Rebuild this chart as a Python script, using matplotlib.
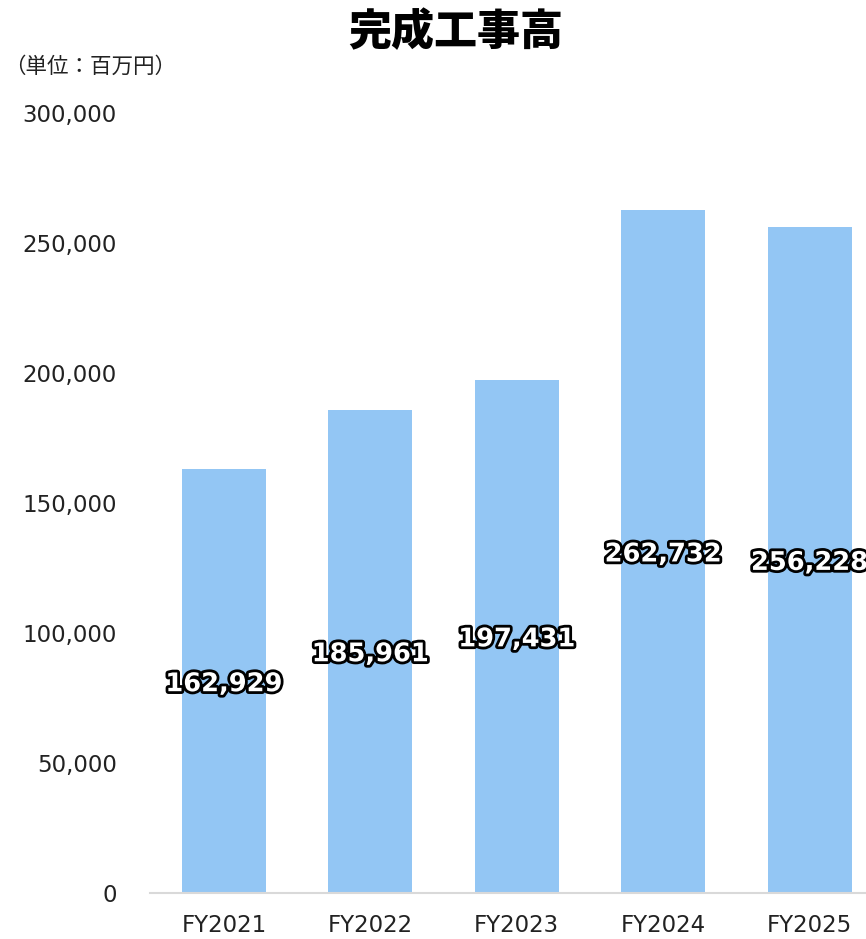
#!/usr/bin/env python3
import numpy as np
import matplotlib
matplotlib.use("Agg")
import matplotlib.pyplot as plt
import matplotlib.patheffects as pe
from matplotlib.ticker import FuncFormatter

plt.rcParams['font.family'] = ['DejaVu Sans', 'Noto Sans CJK JP']

years = ['FY2021', 'FY2022', 'FY2023', 'FY2024', 'FY2025']
sales = [162929, 185961, 197431, 262732, 256228]
title = '完成工事高'
unit = '（単位：百万円）'

fig = plt.figure(figsize=(8.66, 9.39), dpi=100)
ax = fig.add_axes([150 / 866, 46 / 939, 1 - 150 / 866, 780 / 939])

x = np.arange(len(years))
ax.bar(x, sales, width=0.574, color='#93C6F4', zorder=2)

for xi, v in zip(x, sales):
    ax.text(xi, v / 2, f'{v:,}', ha='center', va='center_baseline',
            fontsize=18.5, fontweight='bold', color='white',
            path_effects=[pe.withStroke(linewidth=4, foreground='black')],
            zorder=3, clip_on=False)

ax.set_ylim(0, 300000)
ax.set_xlim(-0.505, 4.385)
ax.set_yticks(np.arange(0, 300001, 50000))
ax.yaxis.set_major_formatter(FuncFormatter(lambda v, p: f'{int(v):,}'))
ax.set_xticks(x)
ax.set_xticklabels(years)
ax.tick_params(axis='y', length=0, pad=24, labelsize=16.5, labelcolor='#222222')
ax.tick_params(axis='x', length=0, pad=15, labelsize=16.5, labelcolor='#222222')

for s in ['top', 'right', 'left']:
    ax.spines[s].set_visible(False)
ax.spines['bottom'].set_color('#d9d9d9')
ax.spines['bottom'].set_linewidth(1.5)

fig.text(456 / 866, 1 - 32 / 939, title, ha='center', va='center',
         fontsize=31, fontweight='heavy', family=['Noto Sans CJK JP'])
fig.text(4 / 866, 1 - 67 / 939, unit, ha='left', va='center',
         fontsize=15.5, family=['Noto Sans CJK JP'], color='#222222')

fig.savefig('out.png', dpi=100)
